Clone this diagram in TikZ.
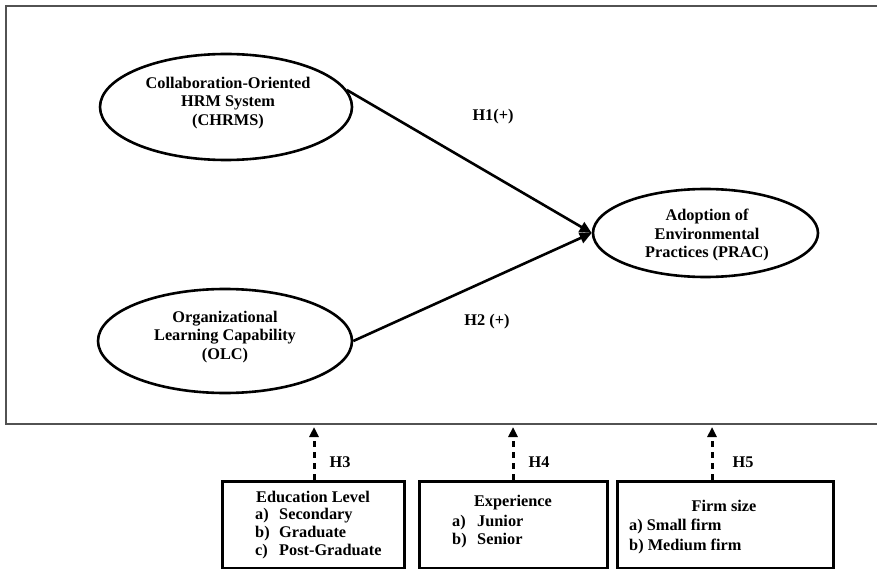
\documentclass[tikz,border=0pt]{standalone}
\usepackage{fontspec}
\setmainfont{Liberation Serif}
\usetikzlibrary{shapes.geometric,arrows.meta}
\begin{document}
\begin{tikzpicture}[x=1pt,y=-1pt,
  txt/.style={font=\fontsize{16.3}{18.8}\selectfont\bfseries, inner sep=0pt, align=center},
  lst/.style={txt, anchor=base west},
  oval/.style={draw, ellipse, line width=2.6pt, inner sep=0pt},
  box/.style={draw, line width=3pt, inner sep=0pt},
  mainarrow/.style={line width=2.6pt, -{Triangle[length=12pt,width=11pt]}},
  dasharrow/.style={line width=3pt, dash pattern=on 6pt off 5pt, -{Triangle[length=10pt,width=9pt]}},
  frame/.style={draw=black!68, line width=1.8pt}
]
\useasboundingbox (0,0) rectangle (877,569);
\draw[frame] (877,6) -- (6,6) -- (6,424) -- (877,424);

% ellipses
\node[oval, minimum width=252pt, minimum height=106pt] (CHRMS) at (226,107) {};
\node[txt] (CHRMSt) at (228,103) {Collaboration-Oriented\\HRM System\\(CHRMS)};
\node[oval, minimum width=254pt, minimum height=104pt] (OLC) at (225,341) {};
\node[txt] (OLCt) at (225,337) {Organizational\\Learning Capability\\(OLC)};
\node[oval, minimum width=225pt, minimum height=88pt] (PRAC) at (705.5,233) {};
\node[txt] (PRACt) at (707,235) {Adoption of\\Environmental\\Practices (PRAC)};

\draw[mainarrow] (CHRMS.8) -- (PRAC.west);
\draw[mainarrow] (OLC.east) -- (PRAC.west);
\node[txt] (H1) at (493,117) {H1(+)};
\node[txt] (H2) at (487,322) {H2 (+)};

% moderator boxes
\node[box, minimum width=182pt, minimum height=87pt] (edu) at (313,524.5) {};
\node[box, minimum width=188pt, minimum height=87pt] (exp) at (513,524.5) {};
\node[box, minimum width=216pt, minimum height=87pt] (firm) at (725,524.5) {};

\node[txt] (edut) at (313,497) {Education Level};
\node[lst] (edua) at (255,519) {a)};
\node[lst] (eduat) at (279,519) {Secondary};
\node[lst] (edub) at (255,537) {b)};
\node[lst] (edubt) at (279,537) {Graduate};
\node[lst] (educ) at (255,555) {c)};
\node[lst] (educt) at (279,555) {Post-Graduate};

\node[txt] (expt) at (513,503) {Experience};
\node[lst] (expa) at (452,526) {a)};
\node[lst] (expat) at (477,526) {Junior};
\node[lst] (expb) at (452,544) {b)};
\node[lst] (expbt) at (477,544) {Senior};

\node[txt] (firmt) at (724,506) {Firm size};
\node[lst] (firma) at (629,530) {a) Small firm};
\node[lst] (firmb) at (629,550) {b) Medium firm};

% dashed arrows
\coordinate (t3) at (314,427);
\coordinate (t4) at (513,427);
\coordinate (t5) at (712,427);
\draw[dasharrow] (edu.north -| t3) -- (t3);
\draw[dasharrow] (exp.north -| t4) -- (t4);
\draw[dasharrow] (firm.north -| t5) -- (t5);
\node[txt] (H3) at (340,462) {H3};
\node[txt] (H4) at (539,462) {H4};
\node[txt] (H5) at (743,462) {H5};
\end{tikzpicture}
\end{document}
